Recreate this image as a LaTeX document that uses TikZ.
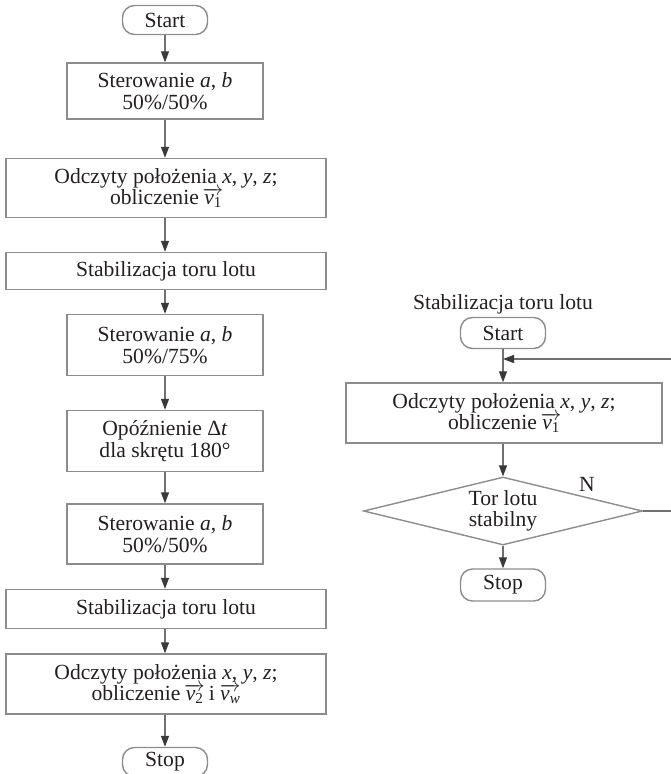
\documentclass[tikz,border=0pt]{standalone}
\usepackage{fontspec}
\setmainfont{Liberation Serif}
\usetikzlibrary{arrows.meta,shapes.geometric}
\definecolor{edge}{HTML}{8C8C8C}
\definecolor{wire}{HTML}{707070}
\definecolor{tip}{HTML}{3A3A3A}
\definecolor{ink}{HTML}{231F20}
% velocity vector: italic v with its index, a thin arrow laid over both
\newcommand{\velo}[1]{\begingroup
  \setbox0\hbox{\textit{v}\textsubscript{#1}}%
  \rlap{\smash{\raisebox{0.42em}{\makebox[\wd0]{\rightarrowfill}}}}\box0\endgroup}
\begin{document}
\begin{tikzpicture}[x=1pt,y=-1pt,
  font=\fontsize{21.6}{21.5}\selectfont, text=ink,
  box/.style={draw=edge, line width=1.4pt, align=center, inner sep=0pt},
  pill/.style={draw=edge, line width=1.4pt, rounded corners=12pt, inner sep=0pt,
               minimum width=85pt, minimum height=29pt},
  flow/.style={wire, line width=1.3pt, -{Triangle[length=11pt,width=8pt,color=tip]}}
]
\useasboundingbox (0,0) rectangle (671,774);

% main procedure
\node[pill] (start) at (165,20) {Start};
\node[box, minimum width=196pt, minimum height=56pt] (ctrlA) at (165,91)
  {Sterowanie \textit{a}, \textit{b}\\50\%/50\%};
\node[box, minimum width=320pt, minimum height=59pt] (readA) at (166,188)
  {Odczyty położenia \textit{x}, \textit{y}, \textit{z};\\obliczenie \velo{1}};
\node[box, minimum width=320pt, minimum height=37pt] (stabA) at (166,271)
  {Stabilizacja toru lotu};
\node[box, minimum width=196pt, minimum height=61pt] (ctrlB) at (165,345)
  {Sterowanie \textit{a}, \textit{b}\\50\%/75\%};
\node[box, minimum width=196pt, minimum height=61pt] (delay) at (165,441)
  {Opóźnienie Δ\textit{t}\\dla skrętu 180°};
\node[box, minimum width=196pt, minimum height=60pt] (ctrlC) at (165,534)
  {Sterowanie \textit{a}, \textit{b}\\50\%/50\%};
\node[box, minimum width=320pt, minimum height=39pt] (stabB) at (166,609)
  {Stabilizacja toru lotu};
\node[box, minimum width=320pt, minimum height=60pt] (readB) at (166,684)
  {Odczyty położenia \textit{x}, \textit{y}, \textit{z};\\obliczenie \velo{2} i \velo{\textit{w}}};
\node[pill] (stop) at (165,762) {Stop};

\draw[flow] (start) -- (ctrlA);
\draw[flow] (ctrlA) -- (ctrlA |- readA.north);
\draw[flow] (ctrlA |- readA.south) -- (ctrlA |- stabA.north);
\draw[flow] (ctrlA |- stabA.south) -- (ctrlB);
\draw[flow] (ctrlB) -- (delay);
\draw[flow] (delay) -- (ctrlC);
\draw[flow] (ctrlC) -- (ctrlC |- stabB.north);
\draw[flow] (ctrlC |- stabB.south) -- (ctrlC |- readB.north);
\draw[flow] (ctrlC |- readB.south) -- (stop);

% flight path stabilisation subroutine
\node (title) at (503,304) {Stabilizacja toru lotu};
\node[pill, minimum height=31pt] (start2) at (503,333) {Start};
\node[box, minimum width=316pt, minimum height=60pt] (read2) at (504,413)
  {Odczyty położenia \textit{x}, \textit{y}, \textit{z};\\obliczenie \velo{1}};
\node[draw=edge, line width=1.4pt, diamond, aspect=4.1, inner sep=0pt,
      minimum width=279pt, minimum height=68pt, align=center] (check) at (503,511)
  {Tor lotu\\stabilny};
\node[pill, minimum height=32pt] (stop2) at (503,585) {Stop};
\coordinate (join) at (503,359);
\coordinate (rim) at (680,511);

\draw[flow] (start2) -- (start2 |- read2.north);
\draw[flow] (check.east) -- (rim) |- (join);
\draw[flow] (start2 |- read2.south) -- (check.north);
\draw[flow] (check.south) -- (stop2);
\node (no) at (587,484) {N};
\end{tikzpicture}
\end{document}
